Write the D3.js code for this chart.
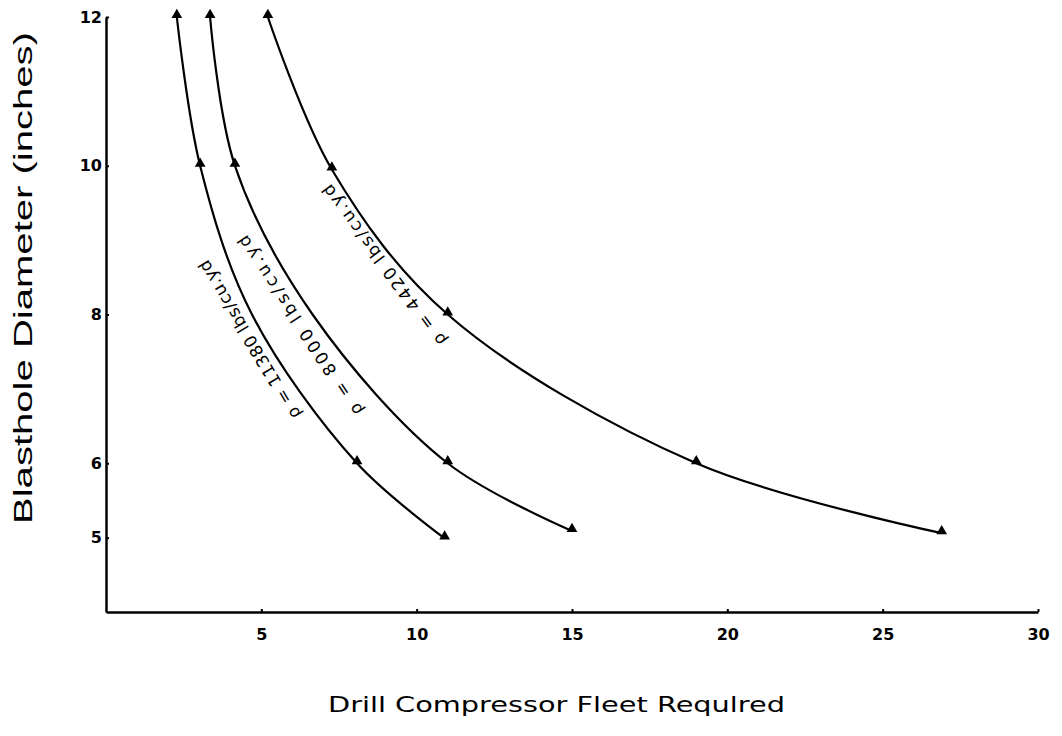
<!DOCTYPE html>
<html>
<head>
<meta charset="utf-8">
<script src="https://cdn.jsdelivr.net/npm/d3@7"></script>
<style>
  body { margin: 0; background: #fff; }
  .axis path, .axis line { stroke: #000; stroke-width: 2.5px; }
  .axis text { font-family: 'DejaVu Sans', sans-serif; font-size: 16px; font-weight: bold; fill: #000; }
</style>
</head>
<body>
<div id="chart"></div>
<script>
// values
const xTicks = [5, 10, 15, 20, 25, 30];
const yTicks = [5, 6, 8, 10, 12];

// rho = 11380 lbs/cu.yd
const fleetA = [2.28, 3.03, 4.7, 8.08, 10.9];
const diamA = [12, 10, 8, 6, 4.99];
const markA = [1, 1, 0, 1, 1];

// rho = 8000 lbs/cu.yd
const fleetB = [3.35, 4.15, 6.65, 11.0, 15.0];
const diamB = [12, 10, 8, 6, 5.09];
const markB = [1, 1, 0, 1, 1];

// rho = 4420 lbs/cu.yd
const fleetC = [5.21, 7.27, 11.0, 19.0, 26.9];
const diamC = [12, 9.95, 8, 6, 5.06];
const markC = [1, 1, 1, 1, 1];

const curveLabels = ['\u03C1 = 11380  lbs/cu.yd', '\u03C1 = 8000  lbs/cu.yd', '\u03C1 = 4420  lbs/cu.yd'];

const width = 1062, height = 736;

const svg = d3.select('#chart').append('svg')
  .attr('width', width)
  .attr('height', height)
  .style('background-color', '#fff');

const x = d3.scaleLinear().domain([0, 30]).range([106, 1038]);
const y = d3.scaleLinear().domain([4, 12]).range([612, 17]);

// axes
svg.append('g')
  .attr('class', 'x axis')
  .attr('transform', `translate(0, ${y(4)})`)
  .call(d3.axisBottom(x).tickValues(xTicks).tickSizeInner(-3).tickSizeOuter(0).tickPadding(17));

svg.append('g')
  .attr('class', 'y axis')
  .attr('transform', `translate(${x(0)}, 0)`)
  .call(d3.axisLeft(y).tickValues(yTicks).tickSizeInner(-3).tickSizeOuter(0).tickPadding(4));

svg.selectAll('.axis .tick line').style('stroke-width', '2px');

// curves
const series = [
  { fx: fleetA, dy: diamA, mk: markA },
  { fx: fleetB, dy: diamB, mk: markB },
  { fx: fleetC, dy: diamC, mk: markC }
].map(s => s.fx.map((v, i) => ({ x: v, y: s.dy[i], m: s.mk[i] })));

const line = d3.line()
  .x(d => x(d.x))
  .y(d => y(d.y))
  .curve(d3.curveCatmullRom.alpha(0.5));

svg.selectAll('path.curve')
  .data(series)
  .enter().append('path')
  .attr('class', 'curve')
  .attr('d', line)
  .attr('fill', 'none')
  .attr('stroke', '#000')
  .attr('stroke-width', 2.2);

// triangle markers
const tri = d3.symbol().type(d3.symbolTriangle).size(50);
svg.selectAll('path.marker')
  .data(series.flat().filter(d => d.m))
  .enter().append('path')
  .attr('class', 'marker')
  .attr('d', tri)
  .attr('transform', d => `translate(${x(d.x)}, ${y(d.y) - 2})`)
  .attr('fill', '#000');

// curve labels, written upside down along each curve
const labelSpots = [
  { x: 4.62, y: 7.66, angle: -121, len: 182 },
  { x: 6.25, y: 7.85, angle: -123.5, len: 212 },
  { x: 8.95, y: 8.66, angle: -126.5, len: 196 }
];

svg.selectAll('text.clabel')
  .data(curveLabels)
  .enter().append('text')
  .attr('class', 'clabel')
  .attr('transform', (d, i) => `translate(${x(labelSpots[i].x)}, ${y(labelSpots[i].y)}) rotate(${labelSpots[i].angle})`)
  .attr('text-anchor', 'middle')
  .attr('dominant-baseline', 'central')
  .attr('textLength', (d, i) => labelSpots[i].len)
  .attr('lengthAdjust', 'spacing')
  .style('font-family', "'DejaVu Sans', sans-serif")
  .style('font-size', '17px')
  .text(d => d);

// axis titles
svg.append('text')
  .attr('x', (328 + 785) / 2)
  .attr('y', 712)
  .attr('text-anchor', 'middle')
  .attr('textLength', 457)
  .attr('lengthAdjust', 'spacingAndGlyphs')
  .style('font-family', "'DejaVu Sans', sans-serif")
  .style('font-size', '22px')
  .text('Drill Compressor Fleet Requlred');

svg.append('text')
  .attr('transform', 'translate(32, 278) rotate(-90)')
  .attr('text-anchor', 'middle')
  .attr('textLength', 492)
  .attr('lengthAdjust', 'spacingAndGlyphs')
  .style('font-family', "'Liberation Sans', Arial, sans-serif")
  .style('font-size', '25px')
  .text('Blasthole Diameter (inches)');
</script>
</body>
</html>
